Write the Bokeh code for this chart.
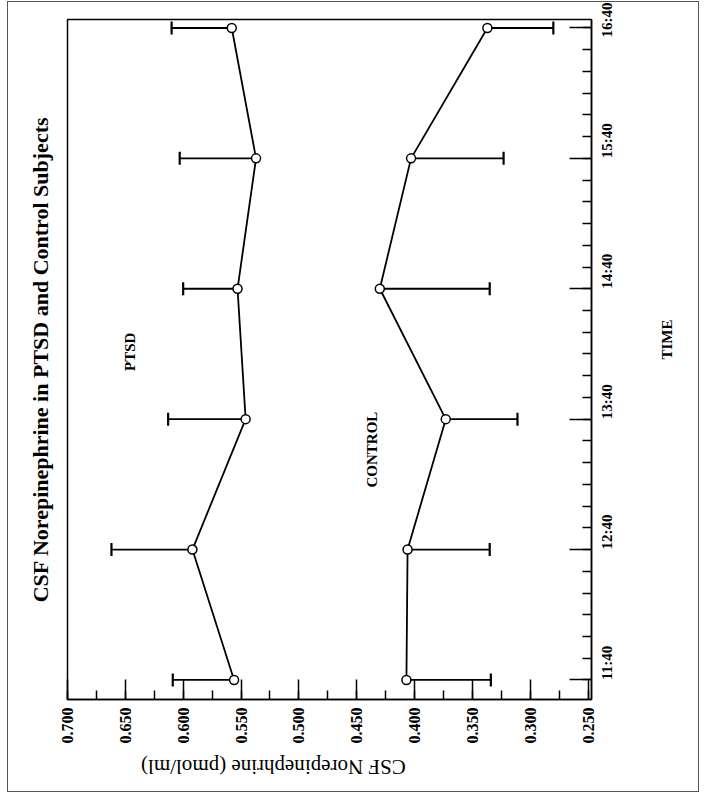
import math
from bokeh.plotting import figure
from bokeh.models import (Range1d, FixedTicker, Label, Whisker, TeeHead,
                          ColumnDataSource, NumeralTickFormatter, Title)
from bokeh.embed import file_html
from bokeh.resources import INLINE

# ---- data ----
times = ["11:40", "12:40", "13:40", "14:40", "15:40", "16:40"]
minutes = [0, 60, 120, 180, 240, 300]          # minutes after 11:40
ptsd_mean = [0.556, 0.592, 0.546, 0.553, 0.537, 0.558]
ptsd_sem = [0.053, 0.070, 0.067, 0.047, 0.066, 0.052]
control_mean = [0.407, 0.406, 0.373, 0.430, 0.403, 0.337]
control_sem = [0.073, 0.071, 0.062, 0.095, 0.080, 0.057]
value_ticks = [0.700, 0.650, 0.600, 0.550, 0.500, 0.450, 0.400, 0.350, 0.300, 0.250]

title_text = "CSF Norepinephrine in PTSD and Control Subjects"
value_label = "CSF Norepinephrine (pmol/ml)"
time_label = "TIME"

SERIF = "Liberation Serif"

ptsd_src = ColumnDataSource(dict(
    t=minutes, mean=ptsd_mean,
    upper=[m + s for m, s in zip(ptsd_mean, ptsd_sem)]))
ctrl_src = ColumnDataSource(dict(
    t=minutes, mean=control_mean,
    lower=[m - s for m, s in zip(control_mean, control_sem)]))

# The chart is shown turned 90 degrees counter-clockwise:
# value axis runs along the bottom (0.700 left -> 0.250 right),
# the time axis is on the right (11:40 bottom -> 16:40 top).
p = figure(width=692, height=791, output_backend="svg", toolbar_location=None,
           x_range=Range1d(0.700, 0.2470), y_range=Range1d(-9.0, 303.9),
           y_axis_location="right",
           min_border_left=59, min_border_right=109,
           min_border_top=17, min_border_bottom=94)
p.styles = {"border": "1.5px solid #555555", "margin-left": "7px", "margin-top": "1px"}
p.background_fill_color = "white"
p.border_fill_color = "white"
p.outline_line_color = "black"
p.outline_line_width = 1.5
p.xgrid.grid_line_color = None
p.ygrid.grid_line_color = None

# main title (reads bottom-to-top on the left)
p.add_layout(Title(text=title_text, align="center", text_font=SERIF,
                   text_font_size="22px", text_font_style="bold",
                   text_color="black", standoff=30), "left")

# value axis (bottom)
xa = p.xaxis[0]
xa.ticker = FixedTicker(ticks=value_ticks,
                        minor_ticks=[round(0.25 + 0.025 * i, 3) for i in range(19)])
xa.formatter = NumeralTickFormatter(format="0.000")
xa.major_label_orientation = math.pi / 2
xa.major_tick_in = 20
xa.major_tick_out = 0
xa.minor_tick_in = 9
xa.minor_tick_out = 0
xa.axis_line_width = 1.5
xa.major_tick_line_width = 1.5
xa.minor_tick_line_width = 1.5
xa.major_label_text_font = SERIF
xa.major_label_text_font_style = "bold"
xa.major_label_text_font_size = "16px"
xa.major_label_text_color = "black"
xa.major_label_standoff = 8
# upside-down label; trailing no-break spaces move the visible text off the frame corner
xa.axis_label = value_label + "\u00a0" * 14
xa.axis_label_orientation = math.pi
xa.axis_label_align = "end"
xa.axis_label_text_font = SERIF
xa.axis_label_text_font_style = "normal"
xa.axis_label_text_font_size = "21px"
xa.axis_label_text_color = "black"
xa.axis_label_standoff = 20

# time axis (right)
ya = p.yaxis[0]
ya.ticker = FixedTicker(ticks=minutes, minor_ticks=list(range(0, 301, 10)))
ya.major_label_overrides = {m: t for m, t in zip(minutes, times)}
ya.major_label_orientation = math.pi / 2
ya.major_tick_in = 22
ya.major_tick_out = 0
ya.minor_tick_in = 9
ya.minor_tick_out = 0
ya.axis_line_width = 1.5
ya.major_tick_line_width = 1.5
ya.minor_tick_line_width = 1.5
ya.major_label_text_font = SERIF
ya.major_label_text_font_style = "bold"
ya.major_label_text_font_size = "15px"
ya.major_label_text_color = "black"
ya.major_label_standoff = 16
ya.axis_label = time_label
ya.axis_label_orientation = math.pi / 2
ya.axis_label_text_font = SERIF
ya.axis_label_text_font_style = "bold"
ya.axis_label_text_font_size = "15px"
ya.axis_label_text_color = "black"
ya.axis_label_standoff = 40

# error bars
p.add_layout(Whisker(source=ptsd_src, base="t", lower="mean", upper="upper",
                     dimension="width", line_color="black", line_width=1.8,
                     upper_head=TeeHead(size=13, line_width=2.2, line_color="black"),
                     lower_head=None))
p.add_layout(Whisker(source=ctrl_src, base="t", lower="lower", upper="mean",
                     dimension="width", line_color="black", line_width=1.8,
                     lower_head=TeeHead(size=13, line_width=2.2, line_color="black"),
                     upper_head=None))

# series lines and open markers
for src in (ptsd_src, ctrl_src):
    p.line(x="mean", y="t", source=src, line_color="black", line_width=1.8)
    p.scatter(x="mean", y="t", source=src, size=9, marker="circle",
              fill_color="white", line_color="black", line_width=1.5)

def add_text(x, y, text):
    p.add_layout(Label(x=x, y=y, text=text, angle=math.pi / 2,
                       text_font=SERIF, text_font_size="15px",
                       text_font_style="bold",
                       text_align="center", text_baseline="middle",
                       text_color="black"))

add_text(0.646, 151, "PTSD")
add_text(0.437, 106, "CONTROL")

open("out.html", "w").write(file_html(p, INLINE))
